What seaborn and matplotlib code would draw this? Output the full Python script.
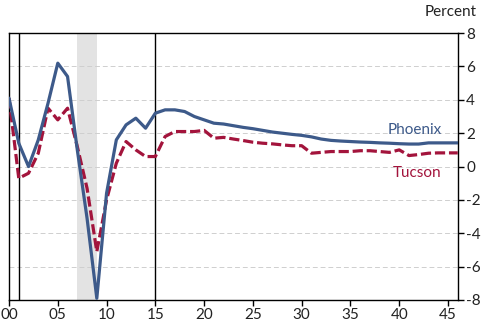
import matplotlib
matplotlib.use("Agg")
import matplotlib.pyplot as plt
import seaborn as sns
import pandas as pd

years = list(range(2000, 2047))
phoenix = [4.1, 1.4, 0.0, 1.6, 3.8, 6.2, 5.4, 1.0, -3.1, -7.9, -1.6, 1.6, 2.5, 2.9, 2.3, 3.2,
           3.4, 3.4, 3.3, 3.0, 2.8, 2.6, 2.55, 2.45, 2.35, 2.27, 2.17, 2.07, 2.0, 1.93, 1.87,
           1.78, 1.65, 1.57, 1.53, 1.5, 1.47, 1.45, 1.42, 1.4, 1.37, 1.35, 1.35, 1.42, 1.42, 1.42, 1.42]
tucson = [4.1, -0.7, -0.4, 0.8, 3.5, 2.8, 3.5, 1.2, -1.3, -5.1, -2.0, 0.2, 1.5, 1.0, 0.6, 0.6,
          1.8, 2.1, 2.1, 2.1, 2.17, 1.7, 1.75, 1.65, 1.56, 1.46, 1.4, 1.36, 1.3, 1.25, 1.25,
          0.8, 0.85, 0.9, 0.9, 0.9, 0.95, 0.95, 0.9, 0.85, 1.0, 0.66, 0.72, 0.8, 0.82, 0.82, 0.82]
recession = (2007, 2009)
vlines = [2001, 2015]
yticks = [-8, -6, -4, -2, 0, 2, 4, 6, 8]
xticks = list(range(2000, 2046, 5))
xticklabels = ["00", "05", "10", "15", "20", "25", "30", "35", "40", "45"]

df = pd.DataFrame({"year": years, "Phoenix": phoenix, "Tucson": tucson})

sns.set_style("white")
plt.rcParams['font.family'] = ['Lato', 'DejaVu Sans']

fig = plt.figure(figsize=(4.82, 3.28), dpi=100)
ax = fig.add_axes([0.0187, 0.0854, 0.931, 0.8136])

blue = "#3D5A8A"
red = "#A3143C"

ax.axvspan(recession[0], recession[1], color="#E3E3E3", lw=0, zorder=0)
for y in yticks[1:-1]:
    ax.axhline(y, color="#CFCFCF", lw=0.7, ls=(0, (5, 3)), zorder=1)
for v in vlines:
    ax.axvline(v, color="black", lw=1.0, zorder=2)

sns.lineplot(data=df, x="year", y="Phoenix", ax=ax, color=blue, lw=2.3, zorder=4)
sns.lineplot(data=df, x="year", y="Tucson", ax=ax, color=red, lw=2.3, zorder=3)
ax.lines[-1].set_dashes((3.2, 1.2))

ax.set_xlim(2000, 2046)
ax.set_ylim(-8, 8)
ax.set_xlabel("")
ax.set_ylabel("")
ax.yaxis.tick_right()
ax.set_yticks(yticks)
ax.set_yticklabels([str(t) for t in yticks])
ax.set_xticks(xticks)
ax.set_xticklabels(xticklabels)
ax.tick_params(axis="both", direction="out", length=4, width=1, color="black",
               labelsize=11, labelcolor="#222222", pad=2)
ax.tick_params(axis="x", bottom=True)
ax.tick_params(axis="y", right=True, left=False)
for s in ax.spines.values():
    s.set_color("black")
    s.set_linewidth(1.0)

fig.text(477 / 482, 1 - 12 / 328, "Percent", ha="right", va="center",
         fontsize=11, color="#222222")
ax.text(2041.6, 2.17, "Phoenix", color=blue, fontsize=11, ha="center", va="center")
ax.text(2041.8, -0.36, "Tucson", color=red, fontsize=11, ha="center", va="center")

fig.savefig("out.png", dpi=100)
